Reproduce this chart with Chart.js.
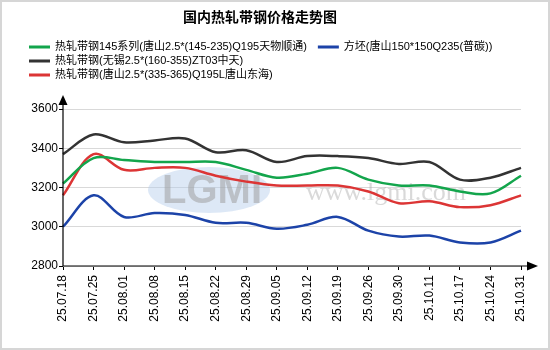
<!DOCTYPE html>
<html>
<head>
<meta charset="utf-8">
<script src="https://cdn.jsdelivr.net/npm/chart.js@4/dist/chart.umd.min.js"></script>
<style>
  html, body { margin: 0; padding: 0; background: #fff; }
  canvas { display: block; }
</style>
</head>
<body>
<canvas id="myChart" width="550" height="350"></canvas>
<script>
const titleText = '国内热轧带钢价格走势图';
const labels = ['25.07.18', '25.07.25', '25.08.01', '25.08.08', '25.08.15', '25.08.22', '25.08.29', '25.09.05',
  '25.09.12', '25.09.19', '25.09.26', '25.09.30', '25.10.11', '25.10.17', '25.10.24', '25.10.31'];
const yTicks = [2800, 3000, 3200, 3400, 3600];

const greenName = '热轧带钢145系列(唐山2.5*(145-235)Q195天物顺通)';
const blueName = '方坯(唐山150*150Q235(普碳))';
const blackName = '热轧带钢(无锡2.5*(160-355)ZT03中天)';
const redName = '热轧带钢(唐山2.5*(335-365)Q195L唐山东海)';

const green = [3220, 3350, 3340, 3330, 3330, 3330, 3290, 3250, 3270, 3300, 3240, 3210, 3210, 3180, 3170, 3260];
const blue = [3000, 3160, 3050, 3070, 3060, 3020, 3020, 2990, 3010, 3050, 2980, 2950, 2955, 2920, 2920, 2980];
const black = [3370, 3470, 3430, 3440, 3450, 3380, 3390, 3330, 3360, 3360, 3350, 3320, 3330, 3240, 3250, 3300];
const red = [3160, 3370, 3290, 3300, 3300, 3260, 3230, 3210, 3210, 3210, 3180, 3120, 3130, 3100, 3110, 3160];

const ctx = document.getElementById('myChart');

function line(name, data, color) {
  return {
    label: name,
    data: data,
    borderColor: color,
    backgroundColor: color,
    borderWidth: 2.5,
    pointRadius: 0,
    tension: 0.35,
    fill: false
  };
}

// title, legend, watermark, frame and arrowed axes
const decorations = {
  id: 'decorations',
  beforeDatasetsDraw(chart) {
    const c = chart.ctx;
    c.save();
    // watermark
    c.fillStyle = 'rgba(180,205,235,0.45)';
    c.beginPath();
    c.ellipse(209, 190, 61, 23, 0, 0, Math.PI * 2);
    c.fill();
    c.font = 'bold 40px "Liberation Sans", Arial';
    c.textAlign = 'center';
    c.textBaseline = 'middle';
    c.fillStyle = 'rgba(160,160,160,0.55)';
    c.fillText('LGMI', 212, 192);
    c.font = '26px "Liberation Serif", serif';
    c.fillStyle = 'rgba(170,170,170,0.45)';
    c.fillText('www.lgmi.com', 386, 193);
    c.restore();
  },
  afterDraw(chart) {
    const c = chart.ctx;
    const a = chart.chartArea;
    c.save();
    // frame
    c.strokeStyle = '#d6d6d6';
    c.lineWidth = 2;
    c.strokeRect(1, 1, 548, 348);
    // title
    c.fillStyle = '#000';
    c.font = 'bold 14px "Noto Sans CJK SC", sans-serif';
    c.textAlign = 'center';
    c.textBaseline = 'middle';
    c.fillText(titleText, 260, 17);
    // legend
    c.font = '11px "Liberation Sans", "Noto Sans CJK SC", sans-serif';
    c.textAlign = 'left';
    const ds = chart.data.datasets;
    const rows = [[0, 1], [2], [3]];
    let y = 47;
    rows.forEach(row => {
      let x = 29;
      row.forEach(i => {
        c.fillStyle = ds[i].borderColor;
        c.fillRect(x, y - 1.5, 21, 3);
        c.fillStyle = '#000';
        c.fillText(ds[i].label, x + 26, y);
        x += 26 + c.measureText(ds[i].label).width + 11;
      });
      y += 14;
    });
    // axes with arrows
    c.strokeStyle = '#000';
    c.fillStyle = '#000';
    c.lineWidth = 1.2;
    c.beginPath();
    c.moveTo(a.left, a.bottom);
    c.lineTo(a.left, a.top - 8);
    c.moveTo(a.left, a.bottom);
    c.lineTo(a.right + 8, a.bottom);
    c.stroke();
    c.beginPath();
    c.moveTo(a.left, a.top - 14);
    c.lineTo(a.left - 4.5, a.top - 4);
    c.lineTo(a.left + 4.5, a.top - 4);
    c.closePath();
    c.fill();
    c.beginPath();
    c.moveTo(a.right + 17, a.bottom);
    c.lineTo(a.right + 6, a.bottom - 4.5);
    c.lineTo(a.right + 6, a.bottom + 4.5);
    c.closePath();
    c.fill();
    c.restore();
  }
};

new Chart(ctx, {
  type: 'line',
  data: {
    labels: labels,
    datasets: [
      line(greenName, green, '#13a54c'),
      line(blueName, blue, '#1c43a8'),
      line(blackName, black, '#333333'),
      line(redName, red, '#dc3535')
    ]
  },
  options: {
    responsive: false,
    animation: false,
    layout: { padding: { top: 109, right: 29, left: 0, bottom: 0 } },
    plugins: {
      legend: { display: false },
      title: { display: false },
      tooltip: { enabled: false }
    },
    scales: {
      x: {
        offset: false,
        afterFit(scale) { scale.height = 84; },
        grid: { drawOnChartArea: false, drawTicks: true, tickLength: 4, tickColor: '#000' },
        border: { display: false },
        ticks: {
          color: '#000',
          font: { size: 12, family: '"Liberation Sans", Arial' },
          minRotation: 90,
          maxRotation: 90,
          autoSkip: false,
          padding: 5
        }
      },
      y: {
        min: 2800,
        max: 3600,
        afterFit(scale) { scale.width = 63; },
        afterBuildTicks(scale) { scale.ticks = yTicks.map(v => ({ value: v })); },
        grid: { color: '#d9d9d9', lineWidth: 1, drawTicks: true, tickLength: 4, tickColor: '#000' },
        border: { display: false },
        ticks: {
          color: '#000',
          font: { size: 12, family: '"Liberation Sans", Arial' },
          padding: 1,
          callback: v => String(v)
        }
      }
    }
  },
  plugins: [decorations]
});
</script>
</body>
</html>
